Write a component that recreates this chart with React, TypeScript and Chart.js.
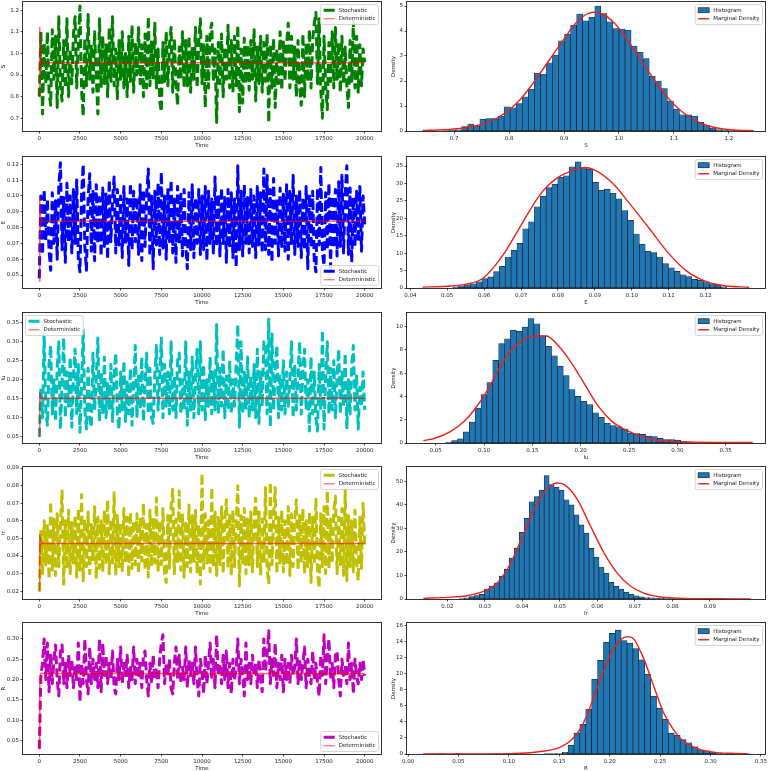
import React, { useEffect, useRef } from "react";
import { Chart, registerables } from "chart.js";
Chart.register(...registerables);

const FONT = "'DejaVu Sans', sans-serif";
const INK = "#222";
const DET_COLOR = "rgba(255,0,0,0.6)";

// ---------- time series (sampled every TIME_STEP) ----------
const TIME_STEP = 100;
const TIME_TICKS = ["0", "2500", "5000", "7500", "10000", "12500", "15000", "17500", "20000"];
const DET_T = [0, 20, 40, 60, 80, 120, 200, 20000];

const S_STOCH = [
  0.80, 1.10, 0.72, 1.05, 0.86, 1.10, 0.82, 0.76, 1.11, 0.88,
  1.08, 0.75, 1.17, 0.85, 0.78, 1.06, 0.84, 1.16, 0.80, 1.02,
  0.86, 1.09, 1.17, 0.84, 1.05, 1.22, 0.83, 0.71, 1.07, 0.85,
  1.18, 0.88, 1.04, 0.82, 1.10, 0.90, 0.72, 1.16, 0.84, 1.08,
  0.86, 1.04, 0.80, 1.12, 0.87, 1.17, 0.85, 1.02, 0.79, 1.06,
  0.88, 1.10, 0.84, 1.00, 0.80, 1.08, 0.87, 1.13, 0.82, 1.05,
  0.90, 1.12, 0.86, 1.04, 0.80, 1.09, 0.84, 1.17, 0.85, 1.06,
  0.88, 1.14, 0.84, 1.02, 0.78, 0.73, 1.05, 0.87, 1.10, 0.85,
  1.04, 1.12, 0.82, 1.07, 0.86, 0.76, 1.03, 0.88, 1.10, 0.84,
  1.06, 0.85, 1.08, 0.82, 1.03, 0.88, 1.12, 0.84, 1.05, 1.16,
  0.86, 1.04, 0.75, 1.08, 0.84, 1.10, 1.14, 0.87, 1.02, 0.68,
  1.05, 0.86, 1.09, 0.80, 1.03, 0.88, 1.13, 0.84, 1.06, 0.82,
  1.08, 0.85, 1.13, 0.73, 1.02, 0.77, 1.07, 0.86, 1.04, 0.83,
  1.06, 0.88, 1.11, 0.78, 1.03, 0.86, 1.08, 0.82, 1.05, 0.87,
  1.09, 0.68, 1.04, 0.84, 1.07, 0.75, 1.02, 0.86, 1.10, 0.83,
  1.06, 0.87, 1.04, 1.14, 0.84, 1.08, 0.88, 1.03, 0.80, 1.06,
  0.85, 0.76, 1.09, 0.80, 1.05, 0.87, 1.11, 0.84, 1.06, 1.14,
  1.19, 0.86, 1.16, 0.83, 0.70, 1.08, 0.85, 0.74, 1.05, 0.87,
  1.10, 0.84, 1.12, 0.88, 1.05, 0.82, 1.08, 0.86, 1.03, 0.85,
  0.75, 1.06, 0.87, 1.15, 0.84, 1.08, 0.82, 1.04, 0.85, 1.02,
  0.96,
];
const S_DET = [0.80, 1.12, 0.84, 1.04, 0.92, 0.965, 0.957, 0.957];

const E_STOCH = [
  0.048, 0.100, 0.063, 0.104, 0.072, 0.098, 0.066, 0.053, 0.102, 0.070,
  0.097, 0.060, 0.106, 0.121, 0.066, 0.099, 0.058, 0.108, 0.071, 0.100,
  0.064, 0.104, 0.070, 0.110, 0.060, 0.052, 0.101, 0.120, 0.068, 0.053,
  0.098, 0.114, 0.065, 0.103, 0.059, 0.107, 0.070, 0.099, 0.062, 0.105,
  0.068, 0.102, 0.060, 0.110, 0.071, 0.097, 0.112, 0.064, 0.104, 0.069,
  0.100, 0.061, 0.106, 0.070, 0.098, 0.056, 0.108, 0.066, 0.103, 0.071,
  0.099, 0.063, 0.107, 0.059, 0.104, 0.068, 0.101, 0.117, 0.062, 0.100,
  0.054, 0.103, 0.069, 0.108, 0.063, 0.115, 0.067, 0.100, 0.060, 0.105,
  0.071, 0.110, 0.064, 0.098, 0.058, 0.106, 0.070, 0.101, 0.062, 0.104,
  0.068, 0.054, 0.102, 0.066, 0.107, 0.061, 0.099, 0.070, 0.104, 0.063,
  0.100, 0.066, 0.106, 0.059, 0.103, 0.070, 0.098, 0.064, 0.112, 0.068,
  0.101, 0.062, 0.105, 0.070, 0.099, 0.058, 0.104, 0.067, 0.102, 0.061,
  0.098, 0.055, 0.119, 0.066, 0.103, 0.062, 0.107, 0.070, 0.099, 0.064,
  0.104, 0.068, 0.100, 0.061, 0.106, 0.069, 0.102, 0.064, 0.117, 0.066,
  0.113, 0.063, 0.104, 0.058, 0.111, 0.070, 0.098, 0.062, 0.105, 0.067,
  0.101, 0.065, 0.107, 0.060, 0.103, 0.069, 0.113, 0.063, 0.100, 0.068,
  0.104, 0.061, 0.099, 0.066, 0.106, 0.054, 0.101, 0.067, 0.103, 0.059,
  0.052, 0.105, 0.069, 0.118, 0.064, 0.056, 0.102, 0.066, 0.108, 0.055,
  0.100, 0.067, 0.104, 0.062, 0.109, 0.068, 0.113, 0.064, 0.101, 0.119,
  0.063, 0.105, 0.058, 0.099, 0.068, 0.103, 0.071, 0.106, 0.065, 0.100,
  0.082,
];
const E_DET = [0.046, 0.100, 0.055, 0.093, 0.080, 0.086, 0.084, 0.084];

const IU_STOCH = [
  0.05, 0.18, 0.10, 0.32, 0.12, 0.08, 0.24, 0.29, 0.11, 0.20,
  0.09, 0.23, 0.30, 0.07, 0.19, 0.31, 0.10, 0.22, 0.13, 0.26,
  0.075, 0.21, 0.28, 0.11, 0.24, 0.062, 0.19, 0.33, 0.12, 0.07,
  0.23, 0.10, 0.075, 0.27, 0.12, 0.20, 0.31, 0.09, 0.22, 0.11,
  0.26, 0.10, 0.19, 0.12, 0.24, 0.09, 0.21, 0.27, 0.11, 0.07,
  0.22, 0.12, 0.25, 0.09, 0.20, 0.11, 0.23, 0.08, 0.18, 0.29,
  0.10, 0.21, 0.12, 0.26, 0.09, 0.19, 0.27, 0.11, 0.23, 0.10,
  0.085, 0.21, 0.29, 0.12, 0.20, 0.31, 0.10, 0.24, 0.13, 0.22,
  0.11, 0.30, 0.12, 0.21, 0.10, 0.25, 0.27, 0.11, 0.20, 0.12,
  0.30, 0.08, 0.22, 0.12, 0.26, 0.10, 0.21, 0.28, 0.11, 0.30,
  0.12, 0.24, 0.095, 0.20, 0.13, 0.26, 0.11, 0.22, 0.12, 0.345,
  0.11, 0.23, 0.13, 0.28, 0.10, 0.21, 0.12, 0.25, 0.11, 0.20,
  0.13, 0.24, 0.345, 0.075, 0.30, 0.11, 0.22, 0.12, 0.26, 0.10,
  0.21, 0.12, 0.24, 0.10, 0.28, 0.085, 0.22, 0.13, 0.30, 0.29,
  0.11, 0.36, 0.075, 0.32, 0.12, 0.23, 0.29, 0.10, 0.21, 0.12,
  0.25, 0.11, 0.22, 0.13, 0.20, 0.30, 0.10, 0.24, 0.12, 0.21,
  0.30, 0.11, 0.23, 0.28, 0.12, 0.20, 0.065, 0.26, 0.11, 0.22,
  0.10, 0.065, 0.24, 0.12, 0.33, 0.07, 0.21, 0.30, 0.11, 0.23,
  0.12, 0.25, 0.10, 0.21, 0.28, 0.11, 0.22, 0.13, 0.27, 0.07,
  0.20, 0.11, 0.24, 0.29, 0.12, 0.21, 0.07, 0.18, 0.13, 0.22,
  0.12,
];
const IU_DET = [0.05, 0.165, 0.11, 0.16, 0.148, 0.153, 0.151, 0.151];

const IR_STOCH = [
  0.020, 0.055, 0.030, 0.060, 0.035, 0.058, 0.027, 0.071, 0.032, 0.061,
  0.029, 0.064, 0.034, 0.058, 0.077, 0.024, 0.060, 0.033, 0.066, 0.030,
  0.059, 0.036, 0.063, 0.028, 0.067, 0.032, 0.075, 0.026, 0.061, 0.034,
  0.065, 0.030, 0.058, 0.037, 0.068, 0.027, 0.062, 0.033, 0.060, 0.031,
  0.066, 0.035, 0.072, 0.030, 0.061, 0.036, 0.076, 0.029, 0.063, 0.034,
  0.059, 0.031, 0.067, 0.036, 0.062, 0.028, 0.065, 0.033, 0.060, 0.035,
  0.064, 0.030, 0.061, 0.037, 0.070, 0.032, 0.058, 0.028, 0.066, 0.034,
  0.062, 0.036, 0.073, 0.031, 0.060, 0.035, 0.067, 0.029, 0.025, 0.063,
  0.033, 0.068, 0.078, 0.030, 0.061, 0.036, 0.077, 0.032, 0.064, 0.028,
  0.060, 0.034, 0.069, 0.031, 0.063, 0.037, 0.066, 0.030, 0.058, 0.024,
  0.087, 0.033, 0.064, 0.036, 0.060, 0.031, 0.079, 0.034, 0.065, 0.029,
  0.062, 0.035, 0.068, 0.030, 0.061, 0.072, 0.033, 0.064, 0.029, 0.066,
  0.034, 0.060, 0.080, 0.023, 0.063, 0.036, 0.067, 0.030, 0.061, 0.035,
  0.065, 0.031, 0.062, 0.073, 0.034, 0.066, 0.029, 0.061, 0.036, 0.079,
  0.033, 0.024, 0.082, 0.035, 0.063, 0.079, 0.030, 0.062, 0.036, 0.066,
  0.031, 0.060, 0.035, 0.068, 0.029, 0.064, 0.034, 0.061, 0.072, 0.032,
  0.063, 0.036, 0.067, 0.030, 0.060, 0.034, 0.065, 0.025, 0.062, 0.035,
  0.073, 0.031, 0.022, 0.064, 0.034, 0.068, 0.030, 0.077, 0.033, 0.061,
  0.036, 0.066, 0.074, 0.030, 0.062, 0.035, 0.067, 0.029, 0.078, 0.026,
  0.063, 0.034, 0.060, 0.031, 0.066, 0.036, 0.026, 0.062, 0.033, 0.070,
  0.045,
];
const IR_DET = [0.020, 0.052, 0.036, 0.050, 0.046, 0.048, 0.0472, 0.0472];

const R_STOCH = [
  0.03, 0.21, 0.24, 0.30, 0.20, 0.29, 0.17, 0.26, 0.19, 0.25,
  0.285, 0.20, 0.16, 0.27, 0.285, 0.19, 0.24, 0.18, 0.26, 0.21,
  0.25, 0.18, 0.23, 0.20, 0.29, 0.145, 0.24, 0.19, 0.30, 0.20,
  0.165, 0.28, 0.19, 0.25, 0.20, 0.24, 0.18, 0.30, 0.17, 0.29,
  0.21, 0.26, 0.19, 0.24, 0.20, 0.27, 0.18, 0.165, 0.25, 0.20,
  0.28, 0.19, 0.24, 0.21, 0.26, 0.18, 0.23, 0.20, 0.28, 0.19,
  0.25, 0.21, 0.24, 0.18, 0.26, 0.27, 0.20, 0.16, 0.24, 0.19,
  0.26, 0.20, 0.23, 0.18, 0.25, 0.29, 0.31, 0.19, 0.24, 0.21,
  0.25, 0.18, 0.165, 0.24, 0.28, 0.20, 0.26, 0.19, 0.23, 0.20,
  0.28, 0.18, 0.25, 0.21, 0.24, 0.19, 0.28, 0.20, 0.16, 0.25,
  0.22, 0.165, 0.26, 0.19, 0.24, 0.29, 0.20, 0.25, 0.18, 0.31,
  0.21, 0.24, 0.19, 0.26, 0.20, 0.27, 0.18, 0.24, 0.165, 0.25,
  0.20, 0.23, 0.30, 0.19, 0.25, 0.21, 0.16, 0.29, 0.20, 0.24,
  0.19, 0.26, 0.21, 0.24, 0.18, 0.25, 0.20, 0.17, 0.30, 0.22,
  0.26, 0.32, 0.19, 0.25, 0.21, 0.29, 0.18, 0.24, 0.20, 0.26,
  0.17, 0.25, 0.20, 0.24, 0.19, 0.26, 0.21, 0.23, 0.30, 0.19,
  0.25, 0.20, 0.24, 0.28, 0.18, 0.25, 0.21, 0.19, 0.27, 0.20,
  0.24, 0.19, 0.16, 0.26, 0.21, 0.31, 0.19, 0.25, 0.30, 0.20,
  0.24, 0.18, 0.26, 0.27, 0.20, 0.16, 0.25, 0.21, 0.23, 0.19,
  0.29, 0.20, 0.24, 0.165, 0.25, 0.21, 0.19, 0.24, 0.20, 0.25,
  0.21,
];
const R_DET = [0.03, 0.12, 0.18, 0.205, 0.212, 0.216, 0.215, 0.215];

// ---------- histograms (bin start, bin width, densities) ----------
const S_BIN_START = 0.681, S_BIN_W = 0.011;
const S_HIST = [
  0.02, 0.03, 0.05, 0.18, 0.28, 0.2, 0.47, 0.5, 0.5, 0.6,
  0.97, 0.93, 1.1, 1.37, 1.67, 2.32, 2.28, 2.73, 3.04, 3.61,
  3.87, 4.24, 4.68, 4.41, 4.55, 5.0, 4.7, 4.37, 4.1, 4.08,
  4.04, 3.4, 3.15, 2.9, 2.2, 2.0, 1.7, 1.2, 0.87, 0.65,
  0.65, 0.6, 0.35, 0.22, 0.12, 0.06, 0.04, 0.02, 0.01, 0.01,
];
const S_DENS_X = [0.643, 0.68, 0.70, 0.72, 0.74, 0.76, 0.78, 0.80, 0.82, 0.84, 0.86, 0.88, 0.90, 0.92, 0.94, 0.955, 0.97, 0.99, 1.01, 1.03, 1.05, 1.07, 1.09, 1.11, 1.13, 1.15, 1.17, 1.19, 1.21, 1.245];
const S_DENS_Y = [0.02, 0.05, 0.08, 0.13, 0.21, 0.34, 0.54, 0.84, 1.25, 1.8, 2.42, 3.05, 3.68, 4.28, 4.66, 4.75, 4.68, 4.35, 3.82, 3.17, 2.5, 1.86, 1.3, 0.86, 0.53, 0.3, 0.16, 0.08, 0.04, 0.01];

const E_BIN_START = 0.0515, E_BIN_W = 0.00158;
const E_HIST = [
  0.3, 0.6, 0.9, 1.2, 1.8, 2.7, 3.2, 4.7, 6.2, 8.9,
  10.8, 12.8, 17.0, 19.0, 23.3, 26.4, 28.8, 29.8, 31.8, 32.2,
  34.8, 36.2, 34.5, 34.1, 30.3, 28.0, 28.4, 27.2, 25.6, 22.2,
  19.4, 15.5, 12.6, 10.6, 10.2, 8.9, 7.0, 5.8, 4.8, 3.8,
  3.3, 2.5, 2.2, 1.8, 1.2, 0.8, 0.3,
];
const E_DENS_X = [0.0433, 0.0498, 0.0552, 0.0597, 0.065, 0.07, 0.075, 0.0798, 0.085, 0.0872, 0.0897, 0.0949, 0.0998, 0.1048, 0.1097, 0.1147, 0.1196, 0.1246, 0.1318];
const E_DENS_Y = [0.25, 0.5, 1.1, 2.8, 9.3, 18, 26.6, 31.6, 34.1, 34.6, 34, 30, 23.7, 17, 10.3, 5, 2.1, 0.7, 0.2];

const IU_BIN_START = 0.0604, IU_BIN_W = 0.00608;
const IU_HIST = [
  0.05, 0.2, 0.35, 0.95, 1.8, 3.0, 4.15, 5.2, 7.1, 8.55,
  8.95, 9.7, 9.6, 9.95, 10.7, 10.25, 9.2, 8.3, 7.5, 6.6,
  5.8, 4.6, 4.0, 3.6, 3.3, 2.6, 2.2, 1.7, 1.5, 1.4,
  1.2, 0.85, 0.8, 0.75, 0.6, 0.55, 0.4, 0.3, 0.3, 0.25,
  0.15, 0.1, 0.05, 0.03, 0.02,
];
const IU_DENS_X = [0.0372, 0.05, 0.0656, 0.0795, 0.09, 0.1038, 0.1177, 0.1316, 0.1455, 0.1524, 0.1646, 0.1785, 0.1906, 0.2045, 0.2184, 0.2323, 0.2462, 0.26, 0.274, 0.2913, 0.3087, 0.3434, 0.378];
const IU_DENS_Y = [0.2, 0.43, 1.0, 1.86, 2.86, 4.57, 6.7, 8.3, 9.1, 9.2, 9.2, 8.2, 6.86, 5.0, 3.14, 1.86, 1.14, 0.63, 0.29, 0.14, 0.09, 0.05, 0.04];

const IR_BIN_START = 0.0232, IR_BIN_W = 0.00133;
const IR_HIST = [
  0.2, 0.5, 1.0, 1.5, 2.0, 4.2, 5.5, 6.8, 9.7, 12.7,
  17.4, 21.6, 28.3, 34.3, 41.3, 43.5, 46.3, 52.5, 48.6, 47.5,
  46.3, 42.2, 40.0, 35.8, 31.5, 28.0, 21.5, 17.8, 13.6, 11.0,
  7.1, 5.4, 4.2, 2.9, 2.0, 1.4, 0.9, 0.6, 0.5, 0.4,
  0.3, 0.2, 0.15, 0.1, 0.05, 0.05, 0.03, 0.02, 0.02, 0.01,
];
const IR_DENS_X = [0.0136, 0.02, 0.0253, 0.0298, 0.0333, 0.0369, 0.0404, 0.044, 0.0476, 0.0493, 0.0516, 0.0547, 0.0582, 0.0618, 0.0653, 0.0689, 0.0724, 0.0769, 0.0831, 0.092, 0.1009];
const IR_DENS_Y = [0.28, 0.7, 1.4, 3.3, 6.8, 15.3, 28, 40.8, 48.2, 49.3, 48.2, 42.2, 30.9, 19.5, 11, 5.4, 2.5, 0.85, 0.28, 0.1, 0.05];

const R_BIN_START = 0.03, R_BIN_W = 0.00585;
const R_HIST = [
  0.03, 0, 0, 0.01, 0, 0, 0, 0, 0, 0.01,
  0, 0, 0, 0, 0, 0, 0, 0, 0.01, 0.03,
  0.05, 0.2, 1.1, 2.6, 3.7, 5.6, 9.3, 11.65, 13.9, 15.0,
  15.4, 14.1, 13.8, 13.1, 11.7, 9.9, 7.2, 5.7, 4.3, 2.6,
  2.35, 1.8, 1.4, 0.9, 0.5, 0.4, 0.25, 0.1, 0.05, 0.15,
];
const R_DENS_X = [0.015, 0.06, 0.10, 0.121, 0.137, 0.15, 0.163, 0.1726, 0.1823, 0.192, 0.2016, 0.2113, 0.2177, 0.2242, 0.2339, 0.2435, 0.2532, 0.2629, 0.2726, 0.2887, 0.3048, 0.338];
const R_DENS_Y = [0, 0, 0.03, 0.15, 0.4, 0.8, 1.86, 3.5, 6.4, 9.7, 12.6, 14.26, 14.6, 14.26, 11.8, 8.5, 5.2, 3.1, 1.65, 0.6, 0.2, 0.02];

// ---------- tick labels ----------
const S_TS_Y = ["0.7", "0.8", "0.9", "1.0", "1.1", "1.2"];
const E_TS_Y = ["0.05", "0.06", "0.07", "0.08", "0.09", "0.10", "0.11", "0.12"];
const IU_TS_Y = ["0.05", "0.10", "0.15", "0.20", "0.25", "0.30", "0.35"];
const IR_TS_Y = ["0.02", "0.03", "0.04", "0.05", "0.06", "0.07", "0.08", "0.09"];
const R_TS_Y = ["0.05", "0.10", "0.15", "0.20", "0.25", "0.30"];

const S_H_X = ["0.7", "0.8", "0.9", "1.0", "1.1", "1.2"];
const S_H_Y = ["0", "1", "2", "3", "4", "5"];
const E_H_X = ["0.04", "0.05", "0.06", "0.07", "0.08", "0.09", "0.10", "0.11", "0.12"];
const E_H_Y = ["0", "5", "10", "15", "20", "25", "30", "35"];
const IU_H_X = ["0.05", "0.10", "0.15", "0.20", "0.25", "0.30", "0.35"];
const IU_H_Y = ["0", "2", "4", "6", "8", "10"];
const IR_H_X = ["0.02", "0.03", "0.04", "0.05", "0.06", "0.07", "0.08", "0.09"];
const IR_H_Y = ["0", "10", "20", "30", "40", "50"];
const R_H_X = ["0.00", "0.05", "0.10", "0.15", "0.20", "0.25", "0.30", "0.35"];
const R_H_Y = ["0", "2", "4", "6", "8", "10", "12", "14", "16"];

// ---------- layout ----------
const ROW_TOP = [2, 157, 313, 467, 623];
const ROW_H = [129, 131, 130, 132, 131];
const X_AXIS_H = 18;

type LegendItem = { label: string; kind: "line" | "rect"; color: string; width: number };

function framePlugin() {
  return {
    id: "frame",
    afterDatasetsDraw(chart: any) {
      const { ctx, chartArea: a } = chart;
      ctx.save();
      ctx.strokeStyle = "rgba(0,0,0,0.8)";
      ctx.lineWidth = 1;
      ctx.strokeRect(Math.round(a.left) - 0.5, Math.round(a.top) - 0.5, Math.round(a.right - a.left) + 1, Math.round(a.bottom - a.top) + 1);
      ctx.restore();
    },
  };
}

function legendPlugin(items: LegendItem[], pos: "ur" | "lr" | "ul") {
  return {
    id: "mplLegend",
    afterDraw(chart: any) {
      const { ctx, chartArea: a } = chart;
      ctx.save();
      ctx.font = `5.5px ${FONT}`;
      const rowH = 8.5, handle = 11, pad = 3, gap = 4;
      const tw = Math.max(...items.map((it) => ctx.measureText(it.label).width));
      const w = pad + handle + gap + tw + pad;
      const h = items.length * rowH + 3;
      const x = pos === "ul" ? a.left + 2.5 : a.right - 2.5 - w;
      const y = pos === "lr" ? a.bottom - 2.5 - h : a.top + 2.5;
      ctx.beginPath();
      (ctx as any).roundRect(x, y, w, h, 2);
      ctx.fillStyle = "rgba(255,255,255,0.85)";
      ctx.fill();
      ctx.strokeStyle = "#cccccc";
      ctx.lineWidth = 0.8;
      ctx.stroke();
      items.forEach((it, i) => {
        const cy = y + 1.5 + rowH * (i + 0.5);
        if (it.kind === "line") {
          ctx.beginPath();
          ctx.strokeStyle = it.color;
          ctx.lineWidth = it.width;
          ctx.moveTo(x + pad, cy);
          ctx.lineTo(x + pad + handle, cy);
          ctx.stroke();
        } else {
          ctx.fillStyle = it.color;
          ctx.fillRect(x + pad, cy - 2.5, handle, 5);
          ctx.strokeStyle = "#111";
          ctx.lineWidth = 0.6;
          ctx.strokeRect(x + pad, cy - 2.5, handle, 5);
        }
        ctx.fillStyle = INK;
        ctx.textBaseline = "middle";
        ctx.textAlign = "left";
        ctx.fillText(it.label, x + pad + handle + gap, cy);
      });
      ctx.restore();
    },
  };
}

function linAxis(min: number, max: number, labels: string[], title: string, horizontal: boolean, fixed: number) {
  const vals = labels.map(Number);
  return {
    type: "linear",
    min,
    max,
    bounds: "data",
    offset: false,
    grid: { drawOnChartArea: false, drawTicks: true, tickLength: 2.5, color: "rgba(0,0,0,0.85)", lineWidth: 0.8, offset: false },
    border: { display: false },
    ticks: {
      autoSkip: false,
      maxRotation: 0,
      minRotation: 0,
      padding: 1.5,
      color: INK,
      font: { family: FONT, size: 5.5 },
      callback: (_v: any, i: number) => labels[i],
    },
    afterBuildTicks: (s: any) => {
      s.ticks = vals.map((v) => ({ value: v }));
    },
    afterFit: (s: any) => {
      if (horizontal) s.height = fixed;
      else s.width = fixed;
      s.paddingLeft = 0;
      s.paddingRight = 0;
      s.paddingTop = 0;
      s.paddingBottom = 0;
    },
    title: { display: true, text: title, color: INK, font: { family: FONT, size: 5.5 }, padding: 0 },
  };
}

function tsConfig(p: {
  stoch: number[]; det: number[]; color: string; yMin: number; yMax: number; yTicks: string[]; yTitle: string; legend: "ur" | "lr" | "ul";
}) {
  return {
    type: "line",
    data: {
      datasets: [
        {
          label: "Stochastic",
          data: p.stoch.map((v, i) => ({ x: i * TIME_STEP, y: v })),
          borderColor: p.color,
          borderWidth: 3,
          borderDash: [9, 4],
          borderJoinStyle: "round",
          borderCapStyle: "butt",
          pointRadius: 0,
          tension: 0,
          fill: false,
          order: 1,
        },
        {
          label: "Deterministic",
          data: DET_T.map((t, i) => ({ x: t, y: p.det[i] })),
          borderColor: DET_COLOR,
          borderWidth: 1.5,
          borderJoinStyle: "round",
          pointRadius: 0,
          tension: 0,
          fill: false,
          order: 0,
        },
      ],
    },
    options: {
      responsive: false,
      animation: false,
      devicePixelRatio: 1,
      events: [],
      layout: { padding: { left: 0, right: 3, top: 2, bottom: 0 } },
      plugins: { legend: { display: false }, tooltip: { enabled: false } },
      scales: {
        x: linAxis(-1000, 21000, TIME_TICKS, "Time", true, X_AXIS_H),
        y: linAxis(p.yMin, p.yMax, p.yTicks, p.yTitle, false, 23),
      },
    },
    plugins: [
      framePlugin(),
      legendPlugin(
        [
          { label: "Stochastic", kind: "line", color: p.color, width: 3 },
          { label: "Deterministic", kind: "line", color: DET_COLOR, width: 1.2 },
        ],
        p.legend
      ),
    ],
  };
}

function histConfig(p: {
  start: number; w: number; hist: number[]; dx: number[]; dy: number[]; xMin: number; xMax: number; xTicks: string[]; yMax: number; yTicks: string[]; title: string;
}) {
  return {
    type: "bar",
    data: {
      datasets: [
        {
          type: "bar",
          label: "Histogram",
          data: p.hist.map((h, i) => ({ x: p.start + (i + 0.5) * p.w, y: h })),
          backgroundColor: "#1f77b4",
          borderColor: "rgba(10,15,30,0.9)",
          borderWidth: 0.7,
          borderSkipped: false,
          barPercentage: 1,
          categoryPercentage: 1,
          order: 1,
        },
        {
          type: "line",
          label: "Marginal Density",
          data: p.dx.map((x, i) => ({ x, y: p.dy[i] })),
          borderColor: "#e8221e",
          borderWidth: 1.4,
          pointRadius: 0,
          cubicInterpolationMode: "monotone",
          fill: false,
          order: 0,
        },
      ],
    },
    options: {
      responsive: false,
      animation: false,
      devicePixelRatio: 1,
      events: [],
      layout: { padding: { left: 6, right: 3, top: 2, bottom: 0 } },
      plugins: { legend: { display: false }, tooltip: { enabled: false } },
      scales: {
        x: linAxis(p.xMin, p.xMax, p.xTicks, p.title, true, X_AXIS_H),
        y: linAxis(0, p.yMax, p.yTicks, "Density", false, 17),
      },
    },
    plugins: [
      framePlugin(),
      legendPlugin(
        [
          { label: "Histogram", kind: "rect", color: "#1f77b4", width: 1 },
          { label: "Marginal Density", kind: "line", color: "#e8221e", width: 1.4 },
        ],
        "ur"
      ),
    ],
  };
}

function Panel({ left, top, width, height, config }: { left: number; top: number; width: number; height: number; config: any }) {
  const ref = useRef<HTMLCanvasElement>(null);
  useEffect(() => {
    const chart = new Chart(ref.current as HTMLCanvasElement, config);
    return () => chart.destroy();
  }, []);
  return (
    <canvas
      ref={ref}
      width={width}
      height={height}
      style={{ position: "absolute", left, top, width, height, display: "block" }}
    />
  );
}

export default function App() {
  const ts = [
    tsConfig({ stoch: S_STOCH, det: S_DET, color: "#008000", yMin: 0.641, yMax: 1.238, yTicks: S_TS_Y, yTitle: "S", legend: "ur" }),
    tsConfig({ stoch: E_STOCH, det: E_DET, color: "#0000ff", yMin: 0.0418, yMax: 0.1246, yTicks: E_TS_Y, yTitle: "E", legend: "lr" }),
    tsConfig({ stoch: IU_STOCH, det: IU_DET, color: "#00bfbf", yMin: 0.0334, yMax: 0.3755, yTicks: IU_TS_Y, yTitle: "Iu", legend: "ul" }),
    tsConfig({ stoch: IR_STOCH, det: IR_DET, color: "#bfbf00", yMin: 0.0156, yMax: 0.0906, yTicks: IR_TS_Y, yTitle: "Ir", legend: "ur" }),
    tsConfig({ stoch: R_STOCH, det: R_DET, color: "#bf00bf", yMin: 0.0173, yMax: 0.339, yTicks: R_TS_Y, yTitle: "R", legend: "lr" }),
  ];
  const hs = [
    histConfig({ start: S_BIN_START, w: S_BIN_W, hist: S_HIST, dx: S_DENS_X, dy: S_DENS_Y, xMin: 0.6145, xMax: 1.2655, xTicks: S_H_X, yMax: 5.16, yTicks: S_H_Y, title: "S" }),
    histConfig({ start: E_BIN_START, w: E_BIN_W, hist: E_HIST, dx: E_DENS_X, dy: E_DENS_Y, xMin: 0.0391, xMax: 0.1361, xTicks: E_H_X, yMax: 37.6, yTicks: E_H_Y, title: "E" }),
    histConfig({ start: IU_BIN_START, w: IU_BIN_W, hist: IU_HIST, dx: IU_DENS_X, dy: IU_DENS_Y, xMin: 0.0203, xMax: 0.3907, xTicks: IU_H_X, yMax: 11.17, yTicks: IU_H_Y, title: "Iu" }),
    histConfig({ start: IR_BIN_START, w: IR_BIN_W, hist: IR_HIST, dx: IR_DENS_X, dy: IR_DENS_Y, xMin: 0.00925, xMax: 0.1047, xTicks: IR_H_X, yMax: 56.1, yTicks: IR_H_Y, title: "Ir" }),
    histConfig({ start: R_BIN_START, w: R_BIN_W, hist: R_HIST, dx: R_DENS_X, dy: R_DENS_Y, xMin: -0.001, xMax: 0.354, xTicks: R_H_X, yMax: 16.29, yTicks: R_H_Y, title: "R" }),
  ];
  return (
    <div style={{ position: "fixed", left: 0, top: 0, width: 768, height: 771, background: "#fff", overflow: "hidden" }}>
      {ROW_TOP.map((t, i) => (
        <React.Fragment key={i}>
          <Panel left={0} top={t - 2} width={384} height={2 + ROW_H[i] + X_AXIS_H} config={ts[i]} />
          <Panel left={384} top={t - 2} width={384} height={2 + ROW_H[i] + X_AXIS_H} config={hs[i]} />
        </React.Fragment>
      ))}
    </div>
  );
}
